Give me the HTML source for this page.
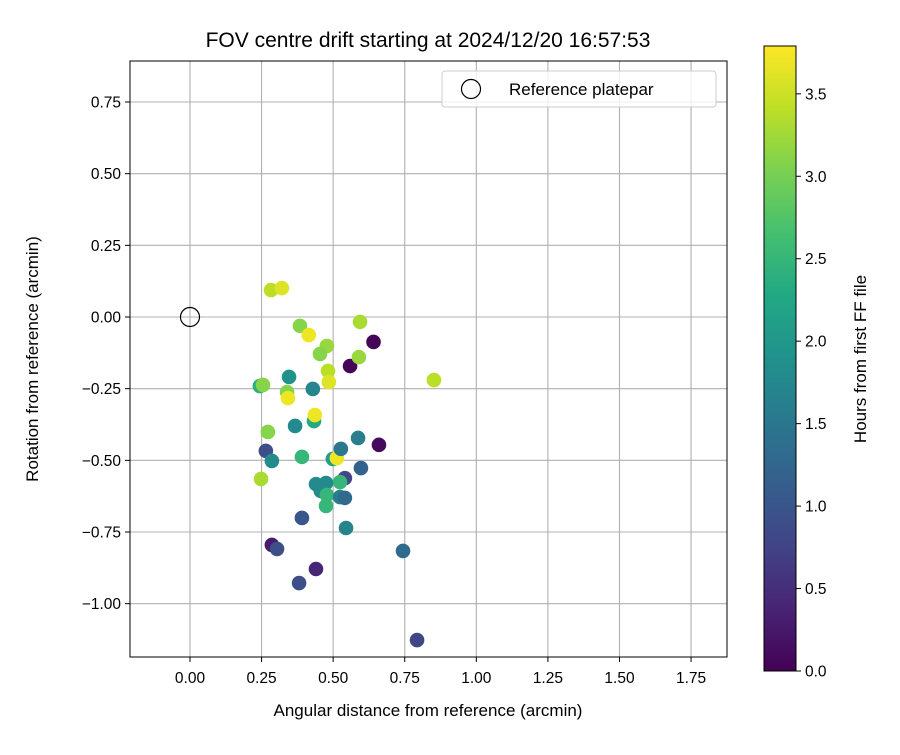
<!DOCTYPE html>
<html><head><meta charset="utf-8"><style>
body{margin:0;background:#fff}
svg text{font-family:"Liberation Sans","DejaVu Sans",sans-serif;fill:#000}
</style></head><body>
<svg id="chart" width="900" height="750" xmlns="http://www.w3.org/2000/svg">
<defs><linearGradient id="vir" x1="0" y1="1" x2="0" y2="0">
<stop offset="0" stop-color="#440154"/><stop offset="0.1" stop-color="#482475"/><stop offset="0.2" stop-color="#414487"/><stop offset="0.3" stop-color="#355f8d"/><stop offset="0.4" stop-color="#2a788e"/><stop offset="0.5" stop-color="#21918c"/><stop offset="0.6" stop-color="#22a884"/><stop offset="0.7" stop-color="#44bf70"/><stop offset="0.8" stop-color="#7ad151"/><stop offset="0.9" stop-color="#bddf26"/><stop offset="1" stop-color="#fde725"/>
</linearGradient></defs>
<rect width="900" height="750" fill="#fff"/>
<text x="428" y="47" font-size="21" text-anchor="middle">FOV centre drift starting at 2024/12/20 16:57:53</text>
<g id="grid"></g>
<g id="ticks"></g>
<g id="points"></g>
<rect x="130" y="61" width="597" height="596" fill="none" stroke="#000" stroke-width="1"/>
<text x="428" y="716" font-size="17" text-anchor="middle">Angular distance from reference (arcmin)</text>
<text transform="translate(38,359) rotate(-90)" font-size="17" text-anchor="middle">Rotation from reference (arcmin)</text>
<g>
<rect x="442" y="71" width="274" height="36" rx="3" fill="#fff" fill-opacity="0.8" stroke="#ccc"/>
<circle cx="471" cy="89" r="9.5" fill="none" stroke="#000" stroke-width="1.2"/>
<text x="509" y="95" font-size="17">Reference platepar</text>
</g>
<rect x="764" y="46" width="32" height="625" fill="url(#vir)" stroke="#000" stroke-width="1"/>
<g id="cbticks"></g>
<text transform="translate(866,359) rotate(-90)" font-size="17" text-anchor="middle">Hours from first FF file</text>
</svg>
<script>
const xs=[0.283,0.321,0.384,0.415,0.594,0.478,0.454,0.641,0.559,0.590,0.482,0.485,0.852,0.346,0.244,0.255,0.339,0.342,0.429,0.433,0.436,0.367,0.272,0.265,0.286,0.391,0.499,0.513,0.527,0.587,0.660,0.597,0.541,0.524,0.440,0.475,0.457,0.478,0.475,0.524,0.541,0.391,0.545,0.286,0.304,0.744,0.440,0.381,0.793,0.248];
const ys=[0.094,0.101,-0.031,-0.063,-0.017,-0.101,-0.129,-0.087,-0.171,-0.140,-0.188,-0.227,-0.220,-0.209,-0.241,-0.237,-0.262,-0.283,-0.251,-0.363,-0.342,-0.380,-0.401,-0.467,-0.502,-0.488,-0.495,-0.492,-0.460,-0.422,-0.446,-0.527,-0.562,-0.576,-0.583,-0.579,-0.607,-0.621,-0.659,-0.628,-0.631,-0.701,-0.736,-0.795,-0.809,-0.816,-0.879,-0.928,-1.127,-0.565];
const hours=[3.4,3.6,3.1,3.7,3.3,3.2,3.1,0.05,0.05,3.2,3.4,3.6,3.4,1.9,2.4,3.1,3.1,3.7,1.7,2.3,3.7,1.8,3.1,0.9,1.8,2.5,2.1,3.7,1.5,1.6,0.1,1.2,0.8,2.5,1.8,1.8,1.8,2.5,2.5,1.6,1.3,1.0,1.7,0.3,0.9,1.3,0.4,0.9,0.8,3.3];
const xTicks=[0,0.25,0.5,0.75,1,1.25,1.5,1.75];
const yTicks=[0.75,0.5,0.25,0,-0.25,-0.5,-0.75,-1];
const cbTicks=[0,0.5,1,1.5,2,2.5,3,3.5];
const X0=130,X1=727,Y0=61,Y1=657,xmin=-0.2095,xmax=1.8755,ymin=-1.186,ymax=0.893,hmax=3.79;
const sx=v=>X0+(v-xmin)/(xmax-xmin)*(X1-X0);
const sy=v=>Y1-(v-ymin)/(ymax-ymin)*(Y1-Y0);
const sc=v=>671-v/hmax*625;
const stops=["#440154","#482475","#414487","#355f8d","#2a788e","#21918c","#22a884","#44bf70","#7ad151","#bddf26","#fde725"];
function vir(t){t=Math.max(0,Math.min(1,t))*10;const i=Math.min(9,Math.floor(t)),f=t-i;
const a=stops[i],b=stops[i+1];const c=k=>Math.round(parseInt(a.substr(k,2),16)*(1-f)+parseInt(b.substr(k,2),16)*f);
return `rgb(${c(1)},${c(3)},${c(5)})`;}
const NS="http://www.w3.org/2000/svg";
function mk(t,p,attrs){const e=document.createElementNS(NS,t);for(const k in attrs)e.setAttribute(k,attrs[k]);p.appendChild(e);return e;}
const G=document.getElementById('grid'),T=document.getElementById('ticks'),P=document.getElementById('points'),C=document.getElementById('cbticks');
xTicks.forEach(v=>{const x=sx(v);
const l=mk('line',G,{x1:x,x2:x,y1:Y0,y2:Y1,stroke:'#b0b0b0','stroke-width':1.1});


const tk=mk('line',T,{x1:x,x2:x,y1:Y1,y2:Y1+5,stroke:'#000'});


const t=mk('text',T,{x:x,y:Y1+26,'font-size':15.5,'text-anchor':'middle'});t.textContent=v.toFixed(2);

});
yTicks.forEach(v=>{const y=sy(v);
const l=mk('line',G,{x1:X0,x2:X1,y1:y,y2:y,stroke:'#b0b0b0','stroke-width':1.1});


const tk=mk('line',T,{x1:X0-5,x2:X0,y1:y,y2:y,stroke:'#000'});


const t=mk('text',T,{x:X0-9,y:y+5.5,'font-size':15.5,'text-anchor':'end'});t.textContent=(v<0?'\u2212':'')+Math.abs(v).toFixed(2);

});
xs.forEach((v,i)=>{const c=mk('circle',P,{cx:sx(v),cy:sy(ys[i]),r:7.3,fill:vir(hours[i]/hmax)});

});
const ref=mk('circle',P,{cx:sx(0),cy:sy(0),r:9.5,fill:'none',stroke:'#000','stroke-width':1.2});


cbTicks.forEach(v=>{const y=sc(v);
const tk=mk('line',C,{x1:796,x2:801,y1:y,y2:y,stroke:'#000'});


const t=mk('text',C,{x:805,y:y+5.5,'font-size':15.5});t.textContent=v.toFixed(1);

});
</script>
</body></html>
